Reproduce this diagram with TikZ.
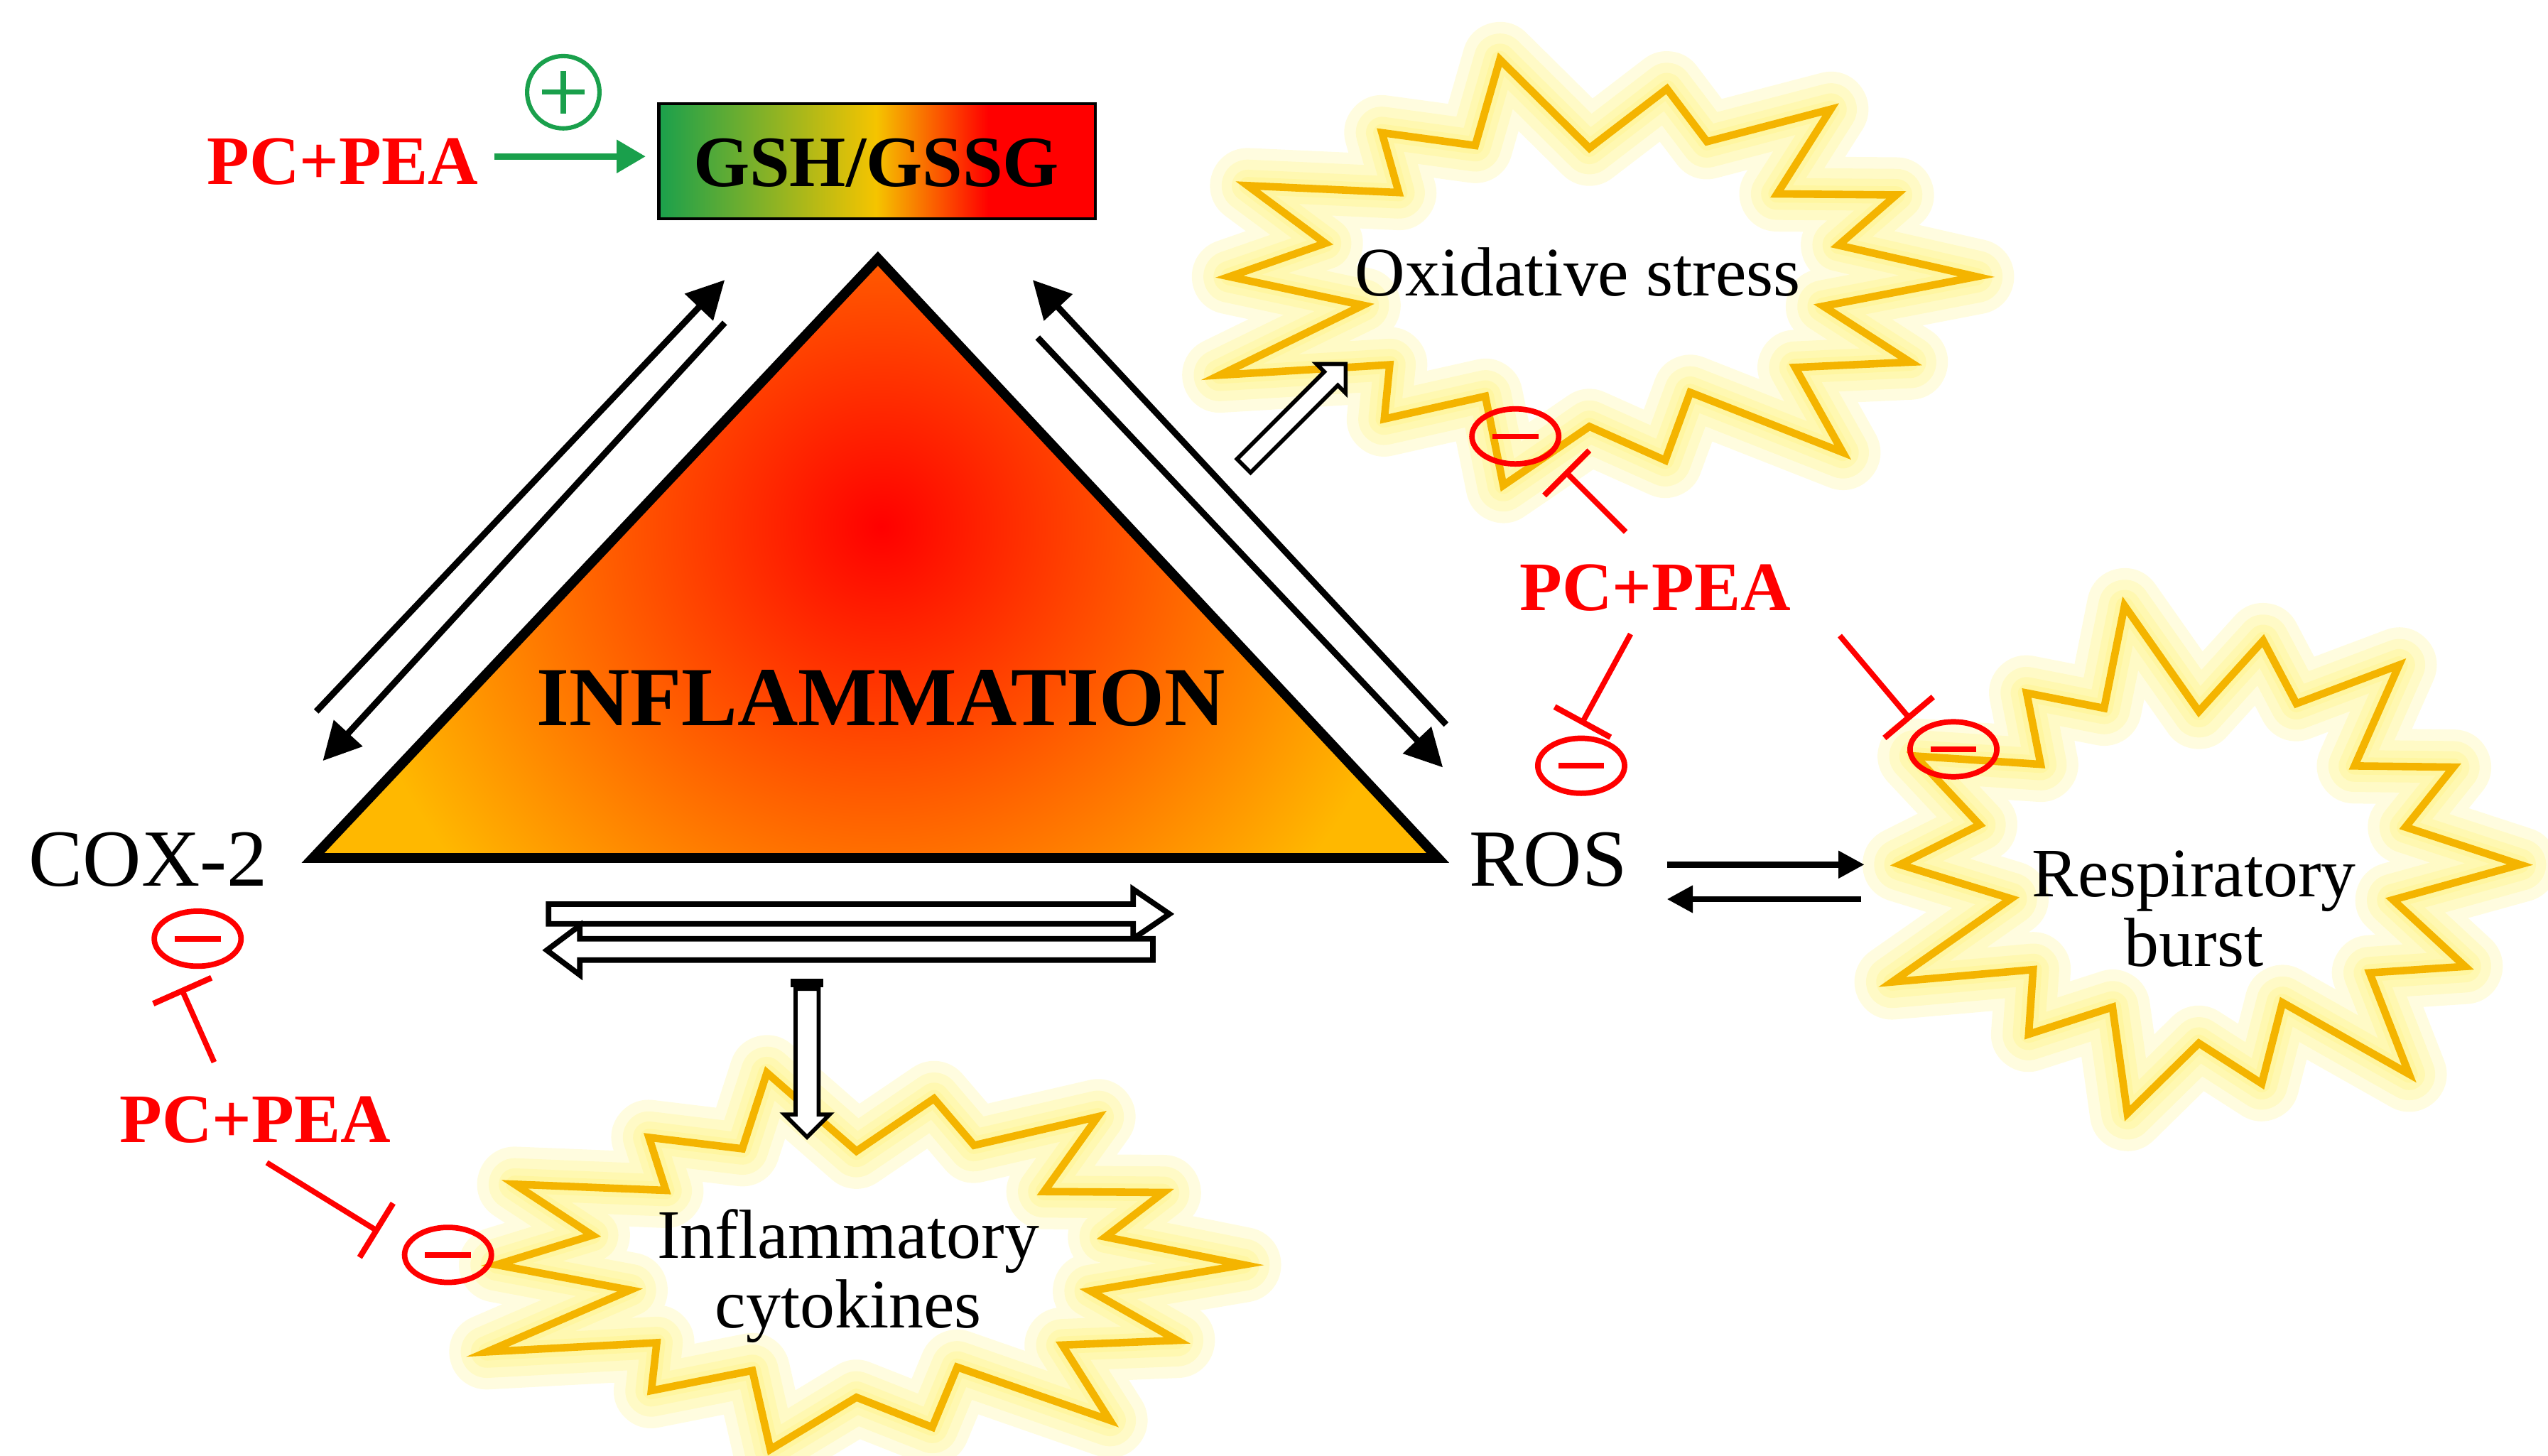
\documentclass[tikz,border=0pt]{standalone}
\usepackage{fontspec}
\setmainfont{Liberation Serif}
\usetikzlibrary{arrows.meta,shapes.arrows,shapes.geometric}
\definecolor{gr}{HTML}{1AA04C}
\definecolor{yel}{HTML}{F5C400}
\definecolor{orn}{HTML}{FFB800}
\definecolor{burstc}{HTML}{F4B400}
\definecolor{glow}{HTML}{FFF060}
\newcommand\mystar[2]{(0:#1 and #2) \foreach \k/\f in {1/0.62,2/0.92,3/0.68,4/1.05,5/0.6,6/0.88,7/0.7,8/1.0,9/0.62,10/0.85,11/0.66,12/1.06,13/0.6,14/0.93,15/0.7,16/0.98,17/0.63,18/0.86,19/0.68,20/1.04,21/0.6,22/0.9,23/0.7,24/1.0,25/0.62,26/0.88,27/0.66} { -- (\k*360/28:{\f*#1} and {\f*#2}) } -- cycle}
\tikzset{
  lbl/.style={font=\fontsize{24}{26}\selectfont},
  red lbl/.style={font=\fontsize{24}{26}\selectfont\bfseries, text=red},
  pair/.style={line width=2.2pt, -{Triangle[length=13pt,width=13pt]}},
  inh/.style={red, line width=1.9pt, -{Bar[width=22pt,line width=2pt]}},
  minus/.style={draw=red, line width=1.9pt, ellipse, minimum width=30pt, minimum height=19pt, inner sep=0pt},
  hollow/.style={draw=black, fill=white, line width=1.4pt, single arrow, inner sep=0pt},
  glowline/.style={glow, line join=round, opacity=0.2},
}
\newcommand\burst[4]{%
 \begin{scope}[shift={(#1,#2)}]
  \foreach \w in {26,18,11,6}{\draw[glowline, line width=\w pt] \mystar{#3}{#4};}
  \draw[burstc, line width=2.6pt, line join=miter] \mystar{#3}{#4};
 \end{scope}}
\begin{document}
\begin{tikzpicture}[x=0.02cm,y=-0.02cm]
\useasboundingbox (0,0) rectangle (1547,884);
% bursts
\burst{965}{168}{235}{130}
\burst{1335}{525}{195}{155}
\burst{520}{768}{235}{115}
\node[lbl] (ox) at (958,165) {Oxidative stress};
\node[lbl, align=center] (rb) at (1332,552) {Respiratory\\[-2pt]burst};
\node[lbl, align=center] (ic) at (515,775) {Inflammatory\\[-2pt]cytokines};
% triangle
\coordinate (ta) at (533,157);
\coordinate (tl) at (190,521);
\coordinate (tr) at (873,521);
\begin{scope}
 \clip (ta) -- (tl) -- (tr) -- cycle;
 \fill[orn] (ta) -- (tl) -- (tr) -- cycle;
 \shade[inner color=red, outer color=orn] (535,320) circle (330);
\end{scope}
\draw[line width=3.4pt, line join=miter] (ta) -- (tl) -- (tr) -- cycle;
\node[font=\fontsize{29}{31}\selectfont\bfseries] (inf) at (535,424) {INFLAMMATION};
% GSH box
\shade[left color=gr, right color=yel] (400,63) rectangle (532,133);
\shade[left color=yel, right color=red] (532,63) rectangle (600,133);
\fill[red] (600,63) rectangle (665,133);
\draw[line width=1pt] (400,63) rectangle (665,133);
\node[font=\fontsize{25}{27}\selectfont\bfseries] (gsh) at (532,99) {GSH/GSSG};
\node[red lbl] (p1) at (208,98) {PC+PEA};
\coordinate (g1) at (300,95); \coordinate (g2) at (392,95);
\draw[gr, line width=2.2pt, -{Triangle[length=10pt,width=11pt]}] (g1) -- (g2);
\node[draw=gr, circle, line width=1.5pt, minimum size=25pt, inner sep=0pt] (plus) at (342,56) {};
\draw[gr, line width=1.8pt] (plus.center) ++(-13,0) -- ++(26,0) (plus.center) ++(0,-13) -- ++(0,26);
% labels
\node[font=\fontsize{28}{30}\selectfont] (cox) at (90,522) {COX-2};
\node[font=\fontsize{28}{30}\selectfont] (ros) at (940,522) {ROS};
% left pair
\coordinate (la1) at (192,432); \coordinate (la2) at (440,170);
\coordinate (lb1) at (440,196); \coordinate (lb2) at (196,462);
\draw[pair] (la1) -- (la2);
\draw[pair] (lb1) -- (lb2);
% right pair
\coordinate (ra1) at (878,440); \coordinate (ra2) at (627,170);
\coordinate (rb1) at (630,205); \coordinate (rb2) at (876,466);
\draw[pair] (ra1) -- (ra2);
\draw[pair] (rb1) -- (rb2);
% bottom hollow pair
\draw[line width=1.9pt, fill=white] (333,549) -- (688,549) -- (688,540) -- (710,555) -- (688,570) -- (688,561) -- (333,561) -- cycle;
\draw[line width=1.9pt, fill=white] (700,570) -- (352,570) -- (352,562) -- (332,577) -- (352,592) -- (352,583) -- (700,583) -- cycle;
% ROS arrows
\coordinate (r1) at (1012,525); \coordinate (r2) at (1132,525);
\coordinate (r3) at (1130,546); \coordinate (r4) at (1012,546);
\draw[line width=2.2pt, -{Triangle[length=9pt,width=9pt]}] (r1) -- (r2);
\draw[line width=2.2pt, -{Triangle[length=9pt,width=9pt]}] (r3) -- (r4);
% hollow arrows
\node[hollow, rotate=45, minimum height=1.75cm, minimum width=0.5cm, single arrow head extend=0.12cm] (oxa) at (784,254) {\rule{0pt}{0.16cm}};
\node[hollow, rotate=-90, minimum height=1.8cm, minimum width=0.55cm, single arrow head extend=0.12cm] (cya) at (490,642) {\rule{0pt}{0.2cm}};
\draw[line width=3pt] (480,597) -- (500,597);
% right inhibitors
\node[red lbl] (p2) at (1005,357) {PC+PEA};
\node[minus] (m1) at (920,265) {}; \draw[red, line width=1.9pt] (m1.center) ++(-14,0) -- ++(28,0);
\node[minus] (m2) at (960,465) {}; \draw[red, line width=1.9pt] (m2.center) ++(-14,0) -- ++(28,0);
\node[minus] (m3) at (1186,455) {}; \draw[red, line width=1.9pt] (m3.center) ++(-14,0) -- ++(28,0);
\coordinate (i1) at (987,323); \coordinate (e1) at (950,286);
\coordinate (i2) at (990,385); \coordinate (e2) at (960,440);
\coordinate (i3) at (1117,386); \coordinate (e3) at (1160,437);
\draw[inh] (i1) -- (e1);
\draw[inh] (i2) -- (e2);
\draw[inh] (i3) -- (e3);
% left inhibitors
\node[red lbl] (p3) at (155,680) {PC+PEA};
\node[minus] (m4) at (120,570) {}; \draw[red, line width=1.9pt] (m4.center) ++(-14,0) -- ++(28,0);
\node[minus] (m5) at (272,762) {}; \draw[red, line width=1.9pt] (m5.center) ++(-14,0) -- ++(28,0);
\coordinate (i4) at (130,645); \coordinate (e4) at (110,600);
\coordinate (i5) at (162,706); \coordinate (e5) at (230,748);
\draw[inh] (i4) -- (e4);
\draw[inh] (i5) -- (e5);
\end{tikzpicture}
\end{document}
